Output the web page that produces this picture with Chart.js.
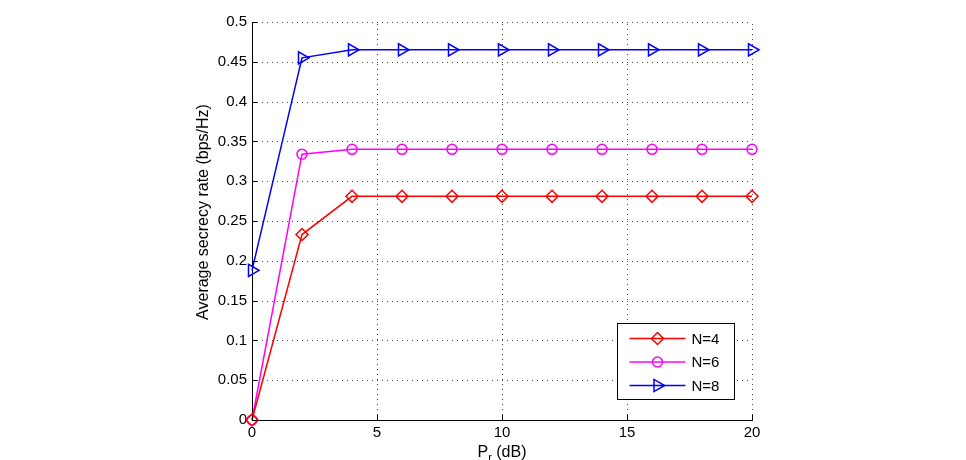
<!DOCTYPE html>
<html>
<head>
<meta charset="utf-8">
<script src="https://cdn.jsdelivr.net/npm/chart.js@4"></script>
<style>
  html, body { margin: 0; padding: 0; background: #fff; }
  #wrap { width: 966px; height: 460px; }
</style>
</head>
<body>
<div id="wrap"><canvas id="chart" width="966" height="460"></canvas></div>
<script>
const powerDb = [0, 2, 4, 6, 8, 10, 12, 14, 16, 18, 20];
const rateN4 = [0, 0.233, 0.281, 0.281, 0.281, 0.281, 0.281, 0.281, 0.281, 0.281, 0.281];
const rateN6 = [0, 0.334, 0.340, 0.340, 0.340, 0.340, 0.340, 0.340, 0.340, 0.340, 0.340];
const rateN8 = [0.188, 0.455, 0.465, 0.465, 0.465, 0.465, 0.465, 0.465, 0.465, 0.465, 0.465];
const xTicks = [0, 5, 10, 15, 20];
const yTicks = [0, 0.05, 0.1, 0.15, 0.2, 0.25, 0.3, 0.35, 0.4, 0.45, 0.5];

const FONT = 'Liberation Sans, Arial, sans-serif';

const toPoints = (ys) => powerDb.map((x, i) => ({ x, y: ys[i] }));

const series = [
  { label: 'N=4', data: rateN4, color: '#ff0000', style: 'rectRot', radius: 6, rotation: 0 },
  { label: 'N=6', data: rateN6, color: '#ff00ff', style: 'circle', radius: 5, rotation: 0 },
  { label: 'N=8', data: rateN8, color: '#0000ff', style: 'triangle', radius: 7, rotation: 90 }
];

// dotted grid behind the lines
const dottedGrid = {
  id: 'dottedGrid',
  beforeDatasetsDraw(chart) {
    const ctx = chart.ctx;
    const { left, right, top, bottom } = chart.chartArea;
    const xs = chart.scales.x, ys = chart.scales.y;
    ctx.save();
    ctx.strokeStyle = '#444';
    ctx.lineWidth = 1;
    ctx.setLineDash([1, 4]);
    ctx.beginPath();
    xTicks.slice(1).forEach(v => {
      const px = Math.round(xs.getPixelForValue(v)) + 0.5;
      ctx.moveTo(px, bottom); ctx.lineTo(px, top);
    });
    yTicks.slice(1).forEach(v => {
      const py = Math.round(ys.getPixelForValue(v)) + 0.5;
      ctx.moveTo(left, py); ctx.lineTo(right, py);
    });
    ctx.stroke();
    ctx.restore();
  }
};

// inward tick marks, legend box, axis titles
const extras = {
  id: 'extras',
  afterDraw(chart) {
    const ctx = chart.ctx;
    const { left, right, top, bottom } = chart.chartArea;
    const xs = chart.scales.x, ys = chart.scales.y;
    ctx.save();
    ctx.strokeStyle = '#000';
    ctx.lineWidth = 1;
    ctx.beginPath();
    xTicks.forEach(v => {
      const px = Math.round(xs.getPixelForValue(v)) + 0.5;
      ctx.moveTo(px, bottom); ctx.lineTo(px, bottom - 5);
    });
    yTicks.forEach(v => {
      const py = Math.round(ys.getPixelForValue(v)) + 0.5;
      ctx.moveTo(left, py); ctx.lineTo(left + 5, py);
    });
    ctx.stroke();

    // legend
    const bx = 617.5, by = 323.5, bw = 117, bh = 76;
    ctx.fillStyle = '#fff';
    ctx.fillRect(bx, by, bw, bh);
    ctx.strokeRect(bx, by, bw, bh);
    ctx.font = '15px ' + FONT;
    ctx.textBaseline = 'middle';
    series.forEach((s, i) => {
      const ly = by + 15 + i * 23.5;
      ctx.strokeStyle = s.color;
      ctx.fillStyle = 'rgba(0,0,0,0)';
      ctx.lineWidth = 1.5;
      ctx.beginPath();
      ctx.moveTo(bx + 12, ly); ctx.lineTo(bx + 68, ly);
      ctx.stroke();
      Chart.helpers.drawPoint(ctx, {
        pointStyle: s.style, radius: s.radius, rotation: s.rotation, borderWidth: 1.5
      }, bx + 40, ly);
      ctx.fillStyle = '#000';
      ctx.textAlign = 'left';
      ctx.fillText(s.label, bx + 74, ly + 1);
    });

    // y axis title
    ctx.fillStyle = '#000';
    ctx.font = '16px ' + FONT;
    ctx.save();
    ctx.translate(204, 212);
    ctx.rotate(-Math.PI / 2);
    ctx.textAlign = 'center';
    ctx.textBaseline = 'middle';
    ctx.fillText('Average secrecy rate (bps/Hz)', 0, 0);
    ctx.restore();

    // x axis title: P_r (dB)
    const cx = (left + right) / 2;
    ctx.textBaseline = 'alphabetic';
    ctx.font = '16px ' + FONT;
    const wP = ctx.measureText('P').width;
    ctx.font = '11px ' + FONT;
    const wr = ctx.measureText('r').width;
    ctx.font = '16px ' + FONT;
    const wRest = ctx.measureText(' (dB)').width;
    const x0 = cx - (wP + wr + wRest) / 2;
    ctx.textAlign = 'left';
    ctx.fillText('P', x0, 457);
    ctx.font = '11px ' + FONT;
    ctx.fillText('r', x0 + wP, 461);
    ctx.font = '16px ' + FONT;
    ctx.fillText(' (dB)', x0 + wP + wr, 457);
    ctx.restore();
  }
};

new Chart(document.getElementById('chart'), {
  type: 'line',
  data: {
    datasets: series.map(s => ({
      label: s.label,
      data: toPoints(s.data),
      borderColor: s.color,
      backgroundColor: 'transparent',
      pointBackgroundColor: 'transparent',
      pointBorderColor: s.color,
      pointStyle: s.style,
      pointRadius: s.radius,
      pointRotation: s.rotation,
      pointBorderWidth: 1.5,
      borderWidth: 1.5,
      tension: 0,
      clip: false
    }))
  },
  options: {
    responsive: false,
    animation: false,
    layout: { padding: { left: 0, right: 214, top: 22, bottom: 0 } },
    plugins: { legend: { display: false }, tooltip: { enabled: false } },
    scales: {
      x: {
        type: 'linear', min: 0, max: 20,
        afterFit: (s) => { s.height = 40; },
        afterBuildTicks: (s) => { s.ticks = xTicks.map(v => ({ value: v })); },
        grid: { display: false, drawTicks: false, tickLength: 0 },
        border: { display: true, color: '#000', width: 1 },
        ticks: { font: { family: FONT, size: 15 }, color: '#000', padding: 4, maxRotation: 0 }
      },
      y: {
        type: 'linear', min: 0, max: 0.5,
        afterFit: (s) => { s.width = 252; },
        afterBuildTicks: (s) => { s.ticks = yTicks.map(v => ({ value: v })); },
        grid: { display: false, drawTicks: false, tickLength: 0 },
        border: { display: true, color: '#000', width: 1 },
        ticks: { font: { family: FONT, size: 15 }, color: '#000', padding: 5,
          callback: (v) => String(parseFloat(v.toFixed(2))) }
      }
    }
  },
  plugins: [dottedGrid, extras]
});
</script>
</body>
</html>
